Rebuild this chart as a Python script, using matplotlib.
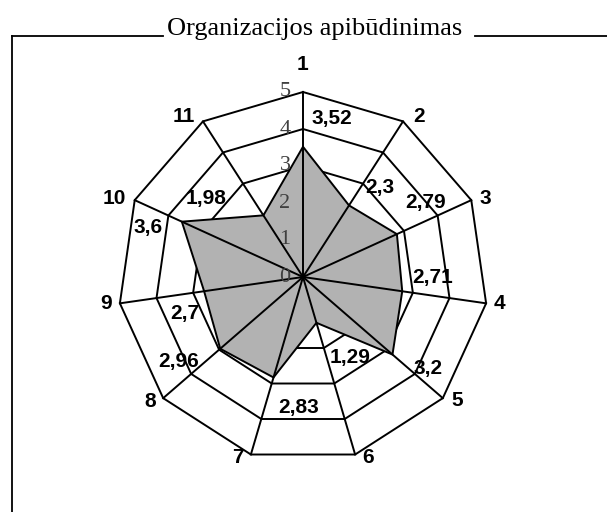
import numpy as np
import matplotlib
matplotlib.use("Agg")
import matplotlib.pyplot as plt
from matplotlib.lines import Line2D

plt.rcParams['font.family'] = ['Liberation Sans', 'DejaVu Sans']

# duomenys
axis_names = ['1', '2', '3', '4', '5', '6', '7', '8', '9', '10', '11']
values = [3.52, 2.3, 2.79, 2.71, 3.2, 1.29, 2.83, 2.96, 2.7, 3.6, 1.98]
value_texts = ['3,52', '2,3', '2,79', '2,71', '3,2', '1,29', '2,83', '2,96', '2,7', '3,6', '1,98']
levels = [0, 1, 2, 3, 4, 5]
title = 'Organizacijos apibūdinimas'

# reiksmiu uzrasu poslinkiai nuo tasko (px, y aukstyn)
value_off = [(29, 28), (31, 18), (29, 32), (30, 14), (36, -14), (34, -35),
             (25, -30), (-42, -13), (-19, -22), (-34, -6), (-57, 17)]
# asiu pavadinimu poslinkiai nuo virsunes (px, y aukstyn)
name_off = [(0, 27), (10, 5), (8, 2), (8, 0), (9, -2), (7, -3),
            (-7, -3), (-7, -3), (-8, 0), (-9, 2), (-8, 5)]

W, H = 607, 512
PT = 0.72  # px -> pt
fig = plt.figure(figsize=(W / 100, H / 100), dpi=100)

# remelis su pavadinimu
lw_box = 1.3
fig.add_artist(Line2D([12 / W, 12 / W], [1 - 35.5 / H, 0], color='k', lw=lw_box, transform=fig.transFigure))
fig.add_artist(Line2D([12 / W, 163 / W], [1 - 35.5 / H] * 2, color='k', lw=lw_box, transform=fig.transFigure))
fig.add_artist(Line2D([475 / W, 1], [1 - 35.5 / H] * 2, color='k', lw=lw_box, transform=fig.transFigure))
fig.text(315 / W, 1 - 35 / H, title, ha='center', va='baseline', fontsize=19, family='Liberation Serif')

# spindulys 5 = 185 px, centras (303, 277)
cx, cy, R = 303, 277, 185
ax = fig.add_axes([(cx - R) / W, (H - cy - R) / H, 2 * R / W, 2 * R / H], projection='polar')
ax.set_theta_zero_location('N')
ax.set_theta_direction(-1)
ax.set_ylim(0, 5)
ax.set_xticks([])
ax.set_yticks([])
ax.grid(False)
ax.spines['polar'].set_visible(False)
ax.patch.set_visible(False)

n = len(values)
theta = np.arange(n) * 2 * np.pi / n
theta_c = np.append(theta, theta[0])
lw = 1.4

# tinklelis
for lv in levels[1:]:
    ax.plot(theta_c, [lv] * (n + 1), color='k', lw=lw, zorder=1, clip_on=False)

# duomenu plotas
vals_c = np.append(values, values[0])
ax.fill(theta_c, vals_c, facecolor='#b2b2b2', edgecolor='k', lw=lw, zorder=2)

# asys
for t in theta:
    ax.plot([t, t], [0, 5], color='k', lw=lw, zorder=3, clip_on=False)

# skales uzrasai
for lv in levels:
    ax.annotate(str(lv), xy=(0, lv), xytext=(-18 * PT, 0), textcoords='offset points',
                ha='center', va='center', fontsize=16, family='Liberation Serif',
                color='#404040', zorder=4, annotation_clip=False)

# asiu pavadinimai
for i, (t, name) in enumerate(zip(theta, axis_names)):
    dx, dy = name_off[i]
    ha = 'center' if dx == 0 else ('left' if dx > 0 else 'right')
    ax.annotate(name, xy=(t, 5), xytext=(dx * PT, dy * PT), textcoords='offset points',
                ha=ha, va='center', fontsize=15, fontweight='bold', annotation_clip=False)

# reiksmes
for t, v, txt, (dx, dy) in zip(theta, values, value_texts, value_off):
    ax.annotate(txt, xy=(t, v), xytext=(dx * PT, dy * PT), textcoords='offset points',
                ha='center', va='center', fontsize=15, fontweight='bold',
                zorder=5, annotation_clip=False)

plt.savefig('out.png', dpi=100)
